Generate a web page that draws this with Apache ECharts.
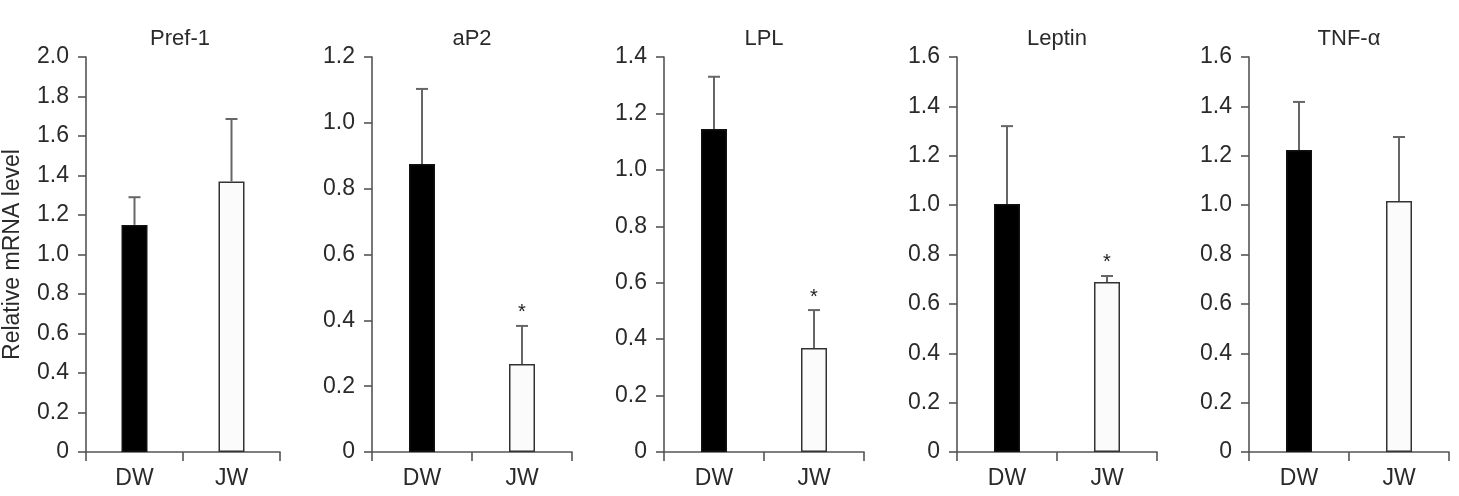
<!DOCTYPE html>
<html>
<head>
<meta charset="utf-8">
<script src="https://cdn.jsdelivr.net/npm/echarts@6/dist/echarts.min.js"></script>
<style>
  html, body { margin: 0; padding: 0; background: #fff; }
  #chart { width: 1459px; height: 496px; }
</style>
</head>
<body>
<div id="chart"></div>
<script>
// panels, one per gene
const genes = ["Pref-1", "aP2", "LPL", "Leptin", "TNF-\u03b1"];
const groups = ["DW", "JW"];

// mean values and upper error (SD)
const dwMean = [1.15, 0.875, 1.145, 1.005, 1.223];
const dwErr = [0.14, 0.228, 0.185, 0.315, 0.195];
const jwMean = [1.37, 0.267, 0.369, 0.689, 1.017];
const jwErr = [0.316, 0.116, 0.134, 0.024, 0.259];
const jwSig = [false, true, true, true, false];

// y axis range of each panel
const yMax = [2.0, 1.2, 1.4, 1.6, 1.6];
const yStep = 0.2;

const gridLeft = [80, 372, 664, 957, 1249];
const gridW = 200;
const gridTop = 57;
const gridH = 395;

const FONT = "Liberation Sans, Arial, sans-serif";
const FS = 23;
const axisColor = "#555";
const textColor = "#2a2a2a";

const chart = echarts.init(document.getElementById("chart"));

const grid = [], xAxis = [], yAxis = [], series = [], title = [];

genes.forEach((g, i) => {
  grid.push({ left: gridLeft[i], top: gridTop, width: gridW, height: gridH, containLabel: false });

  title.push({
    text: g,
    left: gridLeft[i] + gridW / 2,
    top: 28,
    padding: 0,
    textAlign: "center",
    textStyle: { fontFamily: FONT, fontSize: FS - 1, fontWeight: "normal", color: textColor }
  });

  xAxis.push({
    type: "category",
    gridIndex: i,
    data: groups,
    axisLine: { lineStyle: { color: axisColor, width: 1.6 } },
    axisTick: { show: true, length: 9, lineStyle: { color: axisColor, width: 1.6 } },
    axisLabel: { color: textColor, fontFamily: FONT, fontSize: FS, margin: 15 },
    splitLine: { show: false }
  });

  yAxis.push({
    type: "value",
    gridIndex: i,
    min: 0,
    max: yMax[i],
    interval: yStep,
    name: i === 0 ? "Relative mRNA level" : "",
    nameLocation: "middle",
    nameGap: 62,
    nameTextStyle: { color: textColor, fontFamily: FONT, fontSize: FS },
    axisLine: { show: true, lineStyle: { color: axisColor, width: 1.6 } },
    axisTick: { show: true, length: 8, lineStyle: { color: axisColor, width: 1.6 } },
    axisLabel: {
      color: textColor, fontFamily: FONT, fontSize: FS, margin: 17,
      formatter: v => (v === 0 ? "0" : v.toFixed(1))
    },
    splitLine: { show: false }
  });

  series.push({
    type: "bar",
    xAxisIndex: i,
    yAxisIndex: i,
    barWidth: 26,
    data: [
      { value: dwMean[i], itemStyle: { color: "#000", borderColor: "#111", borderWidth: 1.5 } },
      { value: jwMean[i], itemStyle: { color: "#fbfbfb", borderColor: "#333", borderWidth: 1.5 } }
    ]
  });

  // upper error bars with cap, plus significance star
  series.push({
    type: "custom",
    xAxisIndex: i,
    yAxisIndex: i,
    z: 3,
    data: [
      [0, dwMean[i], dwErr[i], 0],
      [1, jwMean[i], jwErr[i], jwSig[i] ? 1 : 0]
    ],
    renderItem: (params, api) => {
      const base = api.coord([api.value(0), api.value(1)]);
      const top = api.coord([api.value(0), api.value(1) + api.value(2)]);
      const st = { stroke: "#666", lineWidth: 2 };
      const children = [
        { type: "line", shape: { x1: base[0], y1: base[1], x2: top[0], y2: top[1] }, style: st },
        { type: "line", shape: { x1: top[0] - 6, y1: top[1], x2: top[0] + 6, y2: top[1] }, style: st }
      ];
      if (api.value(3)) {
        children.push({
          type: "text",
          style: {
            text: "*", x: top[0], y: top[1] - 3,
            align: "center", verticalAlign: "bottom",
            font: "20px " + FONT, fill: "#222"
          }
        });
      }
      return { type: "group", children };
    }
  });
});

chart.setOption({
  animation: false,
  backgroundColor: "#fff",
  title, grid, xAxis, yAxis, series
});
</script>
</body>
</html>
